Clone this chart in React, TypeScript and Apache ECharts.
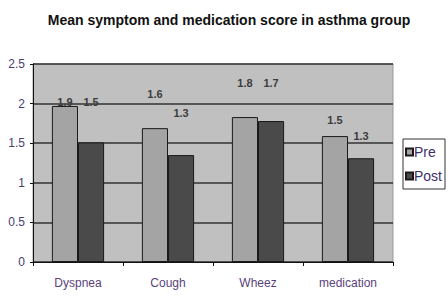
import React, { useEffect, useRef } from "react";
import * as echarts from "echarts";

const categories = ["Dyspnea", "Cough", "Wheez", "medication"];
const preValues = [1.97, 1.69, 1.83, 1.59];
const postValues = [1.51, 1.35, 1.78, 1.31];
const preLabels = ["1.9", "1.6", "1.8", "1.5"];
const postLabels = ["1.5", "1.3", "1.7", "1.3"];
const yTicks = [0, 0.5, 1, 1.5, 2, 2.5];

// label placement tweaks (style only)
const preLabelLift = [1.5, -28.5, -28.5, -10.5];
const postLabelLift = [-34.5, -36.5, -32.5, -16.5];

export default function App() {
  const ref = useRef<HTMLDivElement>(null);
  useEffect(() => {
    if (!ref.current) return;
    const chart = echarts.init(ref.current, null, { renderer: "svg" });
    const labelStyle = {
      show: true,
      position: "top",
      distance: 0,
      fontFamily: "Liberation Sans, Arial, sans-serif",
      fontSize: 11,
      fontWeight: "bold",
      color: "#3c3c3c",
    };
    const mk = (vals: number[], labels: string[], lifts: number[]) =>
      vals.map((v, i) => ({
        value: v,
        label: { ...labelStyle, formatter: labels[i], offset: [0, lifts[i]] },
      }));
    chart.setOption({
      animation: false,
      backgroundColor: "#ffffff",
      title: {
        text: "Mean symptom and medication score in asthma group",
        left: 224,
        textAlign: "center",
        top: 8,
        textStyle: {
          fontFamily: "Liberation Sans, Arial, sans-serif",
          fontSize: 14,
          fontWeight: "bold",
          color: "#111111",
        },
      },
      legend: {
        data: ["Pre", "Post"],
        orient: "vertical",
        left: 403,
        top: 139,
        width: 44,
        padding: [6, 3, 6, 2],
        itemGap: 10,
        itemWidth: 7,
        itemHeight: 7,
        borderColor: "#333",
        borderWidth: 1,
        backgroundColor: "#ffffff",
        icon: "rect",
        textStyle: {
          fontFamily: "Liberation Sans, Arial, sans-serif",
          fontSize: 14,
          color: "#3d2f6a",
          padding: [0, 0, 0, -4],
        },
      },
      grid: {
        left: 33,
        right: 55,
        top: 64,
        bottom: 43,
        show: true,
        backgroundColor: "#c0c0c0",
        borderColor: "#9a9a9a",
        borderWidth: 1,
      },
      xAxis: {
        type: "category",
        data: categories,
        axisLine: { lineStyle: { color: "#111", width: 1 } },
        axisTick: { show: true, length: 4, lineStyle: { color: "#111" } },
        axisLabel: {
          fontFamily: "Liberation Sans, Arial, sans-serif",
          fontSize: 12,
          color: "#5a3f7a",
          margin: 15,
        },
      },
      yAxis: {
        type: "value",
        min: yTicks[0],
        max: yTicks[yTicks.length - 1],
        interval: 0.5,
        axisLine: { show: true, lineStyle: { color: "#111", width: 1 } },
        axisTick: { show: true, length: 3, lineStyle: { color: "#111" } },
        axisLabel: {
          fontFamily: "Liberation Sans, Arial, sans-serif",
          fontSize: 12,
          color: "#4a3d6e",
          margin: 8,
        },
        splitLine: { show: true, lineStyle: { color: "#333333", width: 1.5 } },
      },
      series: [
        {
          name: "Pre",
          type: "bar",
          data: mk(preValues, preLabels, preLabelLift),
          barCategoryGap: "42%",
          barGap: "0%",
          itemStyle: { color: "#a4a4a4", borderColor: "#1a1a1a", borderWidth: 1 },
        },
        {
          name: "Post",
          type: "bar",
          data: mk(postValues, postLabels, postLabelLift),
          barCategoryGap: "42%",
          barGap: "0%",
          itemStyle: { color: "#4a4a4a", borderColor: "#1a1a1a", borderWidth: 1 },
        },
      ],
    });
    return () => chart.dispose();
  }, []);
  return <div ref={ref} style={{ width: 448, height: 305, position: "fixed", left: 0, top: 0 }} />;
}
